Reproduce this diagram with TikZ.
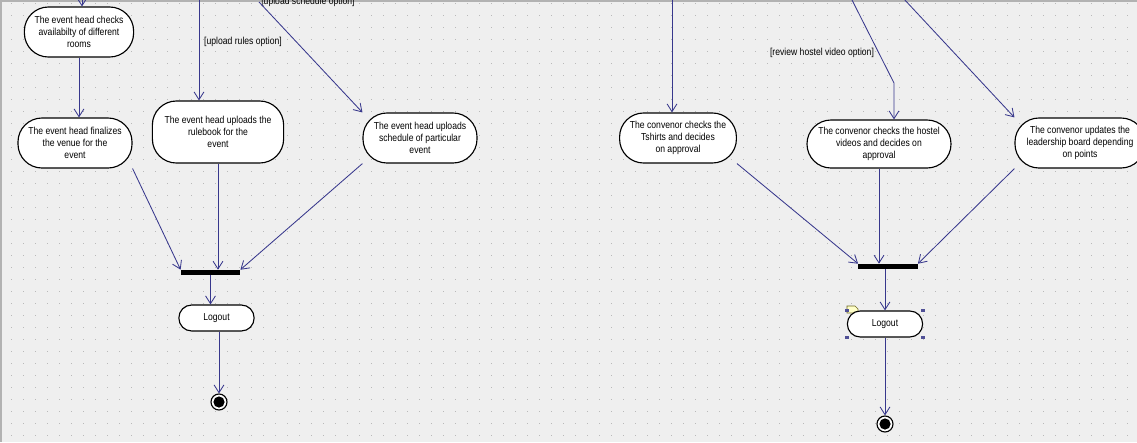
\documentclass[tikz,border=0pt]{standalone}
\usepackage{fontspec}
\setmainfont{Liberation Sans}[FakeStretch=0.85]
\usetikzlibrary{arrows.meta,calc}
\definecolor{flowline}{RGB}{55,55,140}
\definecolor{canvas}{RGB}{239,239,239}
\definecolor{griddot}{RGB}{185,185,185}
\definecolor{handlecol}{RGB}{80,80,150}
\definecolor{notefill}{RGB}{255,255,200}

\begin{document}
\begin{tikzpicture}[x=0.025cm,y=-0.025cm,
    activity/.style={draw,fill=white,line width=0.8pt,rounded corners=0.6cm,align=center,inner sep=1pt,font=\fontsize{7.2}{8.5}\selectfont},
    logout/.style={activity,rounded corners=0.32cm,minimum width=1.88cm,minimum height=0.65cm},
    bar/.style={fill=black,minimum width=1.48cm,minimum height=0.125cm,inner sep=0pt},
    final/.style={circle,draw,fill=white,line width=0.8pt,minimum size=0.4cm,inner sep=0pt,
        path picture={\fill[black] (path picture bounding box.center) circle (0.14cm);}},
    guard/.style={inner sep=0pt,font=\fontsize{7.2}{8.5}\selectfont},
    flow/.style={draw=flowline,line width=0.6pt,-{Straight Barb[length=5.5pt,width=7pt]}},
    handle/.style={fill=handlecol,minimum size=0.09cm,inner sep=0pt}]

            \useasboundingbox (0,0) rectangle (1137,442);
            \fill[canvas] (0,0) rectangle (1137,442);
            \clip (0,0) rectangle (1137,442);
            \foreach \x in {11,23,...,1139}{
                \foreach \y in {3,15,...,441}{
                    \fill[griddot] (\x,\y) rectangle ++(1.2,1.2);
                }
            }
            \draw[gray!60,line width=0.1cm] (0,442) -- (0,0) -- (1137,0);

            % event head side
            \node[activity,minimum width=2.73cm,minimum height=1.25cm] (checkRooms) at (79,32) {The event head checks\\availabilty of different\\rooms};
            \node[activity,minimum width=2.85cm,minimum height=1.25cm] (finalVenue) at (75,143) {The event head finalizes\\the venue for the\\event};
            \node[activity,minimum width=3.28cm,minimum height=1.55cm] (uploadRules) at (218,132) {The event head uploads the\\rulebook for the\\event};
            \node[activity,minimum width=2.85cm,minimum height=1.25cm] (uploadSched) at (420,138) {The event head uploads\\schedule of particular\\event};
            \node[bar] (joinHead) at (210.5,272.5) {};
            \node[logout] (logoutHead) at (216.5,318) {Logout};
            \node[final] (endHead) at (219,402) {};

            \node[guard] (rulesGuard) at (243,42) {[upload rules option]};
            \node[guard,anchor=base] (schedGuard) at (308,4.5) {[upload schedule option]};

            \coordinate (inRooms) at (82,-2);
            \coordinate (inRules) at (199,-2);
            \coordinate (inSched) at (259,2);

            \draw[flow] (inRooms) to (inRooms |- checkRooms.north);
            \draw[flow] (checkRooms.south) to (checkRooms.south |- finalVenue.north);
            \draw[flow] (inRules) to (inRules |- uploadRules.north);
            \draw[flow] (inSched) to (uploadSched.north west);
            \draw[flow] (finalVenue.south east) to (joinHead.north west);
            \draw[flow] (uploadRules.south) to (uploadRules.south |- joinHead.north);
            \draw[flow] (uploadSched.south west) to (joinHead.north east);
            \draw[flow] (joinHead.south) to (joinHead.south |- logoutHead.north);
            \draw[flow] (endHead |- logoutHead.south) to (endHead.north);

            % convenor side
            \node[activity,minimum width=2.92cm,minimum height=1.25cm] (checkShirts) at (678,138) {The convenor checks the\\Tshirts and decides\\on approval};
            \node[activity,minimum width=3.6cm,minimum height=1.2cm] (checkVideos) at (879,144) {The convenor checks the hostel\\videos and decides on\\approval};
            \node[activity,minimum width=3.25cm,minimum height=1.25cm] (updateBoard) at (1080,143) {The convenor updates the\\leadership board depending\\on points};
            \node[bar] (joinConv) at (888,266.5) {};
            \fill[notefill,draw=olive!70!black,line width=0.4pt] (847,313) -- (847,306) -- (855,306) -- (858,309) -- (858,313) -- cycle;
            \node[logout] (logoutConv) at (885,324) {Logout};
            \node[final] (endConv) at (885,424) {};
            \node[handle] (hNW) at (logoutConv.north west) {};
            \node[handle] (hNE) at (logoutConv.north east) {};
            \node[handle] (hSW) at (logoutConv.south west) {};
            \node[handle] (hSE) at (logoutConv.south east) {};

            \node[guard] (videoGuard) at (822,53) {[review hostel video option]};

            \coordinate (inShirts) at (672,-2);
            \coordinate (inVideos) at (851,-2);
            \coordinate (bendVideos) at (894,83);
            \coordinate (inBoard) at (903,-2);

            \draw[flow] (inShirts) to (inShirts |- checkShirts.north);
            \draw[flow] (inVideos) -- (bendVideos) -- (bendVideos |- checkVideos.north);
            \draw[flow] (inBoard) to (updateBoard.north west);
            \draw[flow] (checkShirts.south east) to (joinConv.north west);
            \draw[flow] (checkVideos.south) to (checkVideos.south |- joinConv.north);
            \draw[flow] (updateBoard.south west) to (joinConv.north east);
            \draw[flow] (logoutConv.north |- joinConv.south) to (logoutConv.north);
            \draw[flow] (endConv |- logoutConv.south) to (endConv.north);

            ;
        \end{tikzpicture}
\end{document}
